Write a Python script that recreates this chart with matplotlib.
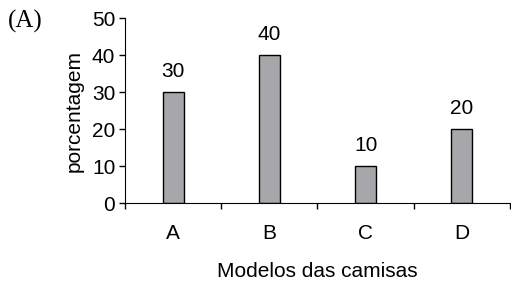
import matplotlib.pyplot as plt

# data
modelos = ['A', 'B', 'C', 'D']
porcentagem = [30, 40, 10, 20]

plt.rcParams['font.family'] = ['Liberation Sans', 'DejaVu Sans']

fig = plt.figure(figsize=(5.11, 2.85), dpi=100)
ax = fig.add_axes([0.2446, 0.2877, 0.7534, 0.6491])

pos = list(range(len(modelos)))
ax.bar(pos, porcentagem, width=0.22, color='#a7a7ab', edgecolor='black', linewidth=1.0)

# value labels above the bars
for x, v in zip(pos, porcentagem):
    ax.annotate(str(v), (x, v), xytext=(0, 8), textcoords='offset points',
                ha='center', va='bottom', fontsize=15)

ax.set_xlim(-0.5, len(modelos) - 0.5)
ax.set_ylim(0, 50)
ax.set_yticks([0, 10, 20, 30, 40, 50])

# tick marks between categories, labels centred under bars
ax.set_xticks([i - 0.5 for i in range(len(modelos) + 1)])
ax.set_xticklabels([])
ax.set_xticks(pos, minor=True)
ax.set_xticklabels(modelos, minor=True)
ax.tick_params(axis='x', which='minor', length=0, pad=15, labelsize=15)
ax.tick_params(axis='x', which='major', length=4, width=1)
ax.tick_params(axis='y', length=4, width=1, labelsize=15, pad=3)

ax.spines['top'].set_visible(False)
ax.spines['right'].set_visible(False)

ax.set_xlabel('Modelos das camisas', fontsize=15, labelpad=14)
ax.set_ylabel('porcentagem', fontsize=15, labelpad=6)

fig.text(0.016, 0.925, '(A)', fontsize=18, family='Liberation Serif', va='center')

plt.savefig('out.png', dpi=100)
